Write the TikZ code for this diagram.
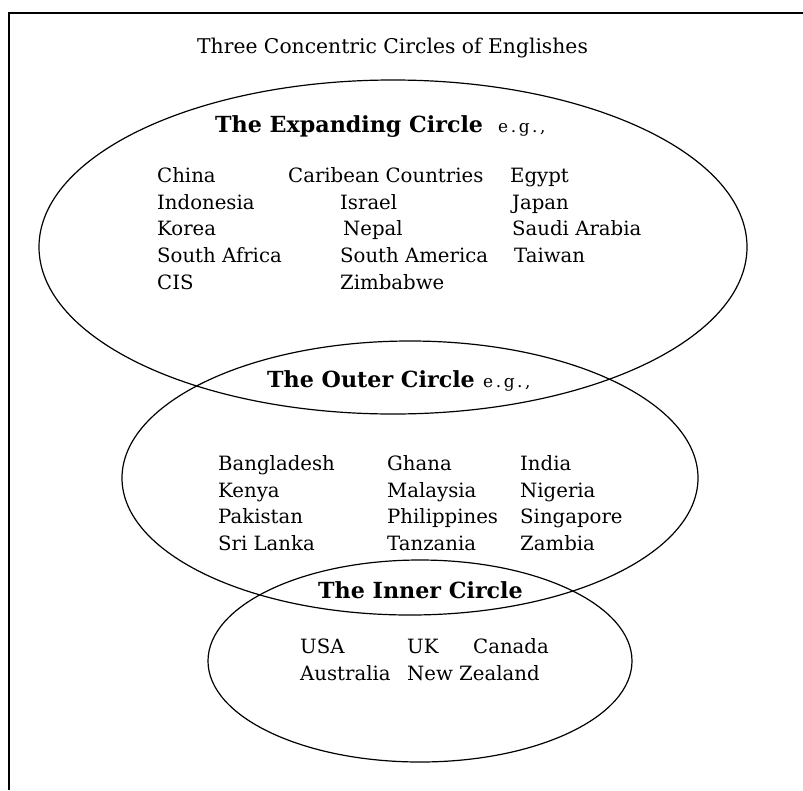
\documentclass[tikz,border=0pt]{standalone}
\usepackage{fontspec}
\setmainfont{DejaVu Serif}
\begin{document}
\begin{tikzpicture}[x=1pt,y=-1pt,
  ring/.style={draw, line width=1.2pt},
  frame/.style={draw, line width=2pt},
  txt/.style={anchor=base west, inner sep=0pt, font=\fontsize{19.7}{22}\selectfont},
  head/.style={anchor=base west, inner sep=0pt, font=\fontsize{22.2}{26}\selectfont\bfseries},
  eg/.style={anchor=base west, inner sep=0pt, font=\fontsize{17}{20}\selectfont\addfontfeature{LetterSpace=15}}]
\useasboundingbox (0,0) rectangle (803,790);
% frame (left and top edges)
\coordinate (fbl) at (9,790);
\coordinate (ftl) at (9,13);
\coordinate (ftr) at (803,13);
\draw[frame] (fbl) -- (ftl) -- (ftr);
% circles
\coordinate (expC) at (393,247);
\coordinate (outC) at (410,478);
\coordinate (innC) at (420,661);
\draw[ring] (expC) ellipse [x radius=354pt, y radius=167pt];
\draw[ring] (outC) ellipse [x radius=288pt, y radius=137pt];
\draw[ring] (innC) ellipse [x radius=212pt, y radius=101pt];
% title
\node[txt, font=\fontsize{20.3}{24}\selectfont] (title) at (197,53) {Three Concentric Circles of Englishes};
% expanding circle
\node[head] (expH) at (215,132) {The Expanding Circle};
\node[eg] (expEg) at (498,132) {e.g.,};
\node[txt] (e11) at (157,182) {China};
\node[txt] (e12) at (288,182) {Caribean Countries};
\node[txt] (e13) at (510,182) {Egypt};
\node[txt] (e21) at (157,209) {Indonesia};
\node[txt] (e22) at (340,209) {Israel};
\node[txt] (e23) at (512,209) {Japan};
\node[txt] (e31) at (157,235) {Korea};
\node[txt] (e32) at (343,235) {Nepal};
\node[txt] (e33) at (512,235) {Saudi Arabia};
\node[txt] (e41) at (157,262) {South Africa};
\node[txt] (e42) at (340,262) {South America};
\node[txt] (e43) at (514,262) {Taiwan};
\node[txt] (e51) at (157,289) {CIS};
\node[txt] (e52) at (340,289) {Zimbabwe};
% outer circle
\node[head] (outH) at (267,387) {The Outer Circle};
\node[eg] (outEg) at (483,387) {e.g.,};
\node[txt] (o11) at (218,470) {Bangladesh};
\node[txt] (o12) at (387,470) {Ghana};
\node[txt] (o13) at (520,470) {India};
\node[txt] (o21) at (218,497) {Kenya};
\node[txt] (o22) at (387,497) {Malaysia};
\node[txt] (o23) at (520,497) {Nigeria};
\node[txt] (o31) at (218,523) {Pakistan};
\node[txt] (o32) at (387,523) {Philippines};
\node[txt] (o33) at (520,523) {Singapore};
\node[txt] (o41) at (218,550) {Sri Lanka};
\node[txt] (o42) at (387,550) {Tanzania};
\node[txt] (o43) at (520,550) {Zambia};
% inner circle
\node[head] (innH) at (318,598) {The Inner Circle};
\node[txt] (i11) at (300,653) {USA};
\node[txt] (i12) at (407,653) {UK};
\node[txt] (i13) at (473,653) {Canada};
\node[txt] (i21) at (300,680) {Australia};
\node[txt] (i22) at (407,680) {New Zealand};
\end{tikzpicture}
\end{document}
